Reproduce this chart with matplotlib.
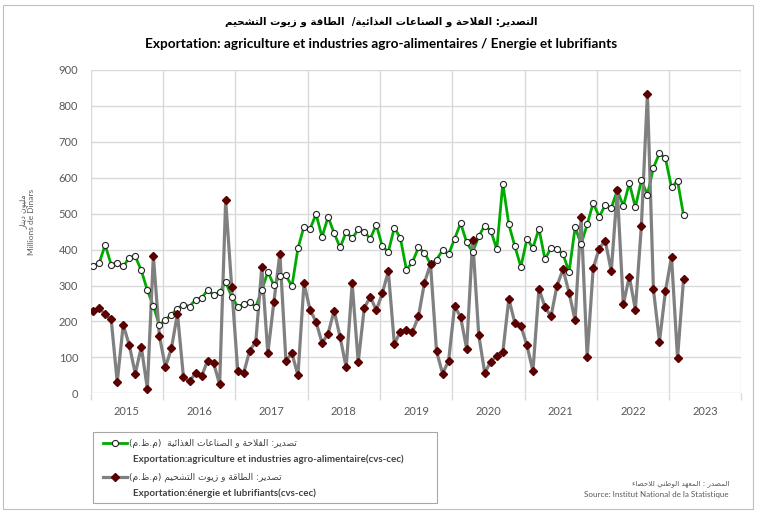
import numpy as np
import matplotlib
matplotlib.use('Agg')
import matplotlib.pyplot as plt
from matplotlib.lines import Line2D
from matplotlib.patches import Rectangle

# Données mensuelles, janvier 2015 -> mars 2023 (millions de dinars, cvs-cec)
years = [2015, 2016, 2017, 2018, 2019, 2020, 2021, 2022, 2023]
agri = [355, 362, 413, 358, 362, 353, 378, 381, 342, 287, 244, 189,
        205, 219, 236, 247, 241, 261, 265, 287, 274, 281, 310, 269,
        241, 248, 254, 241, 287, 338, 301, 327, 328, 298, 404, 464,
        457, 499, 435, 491, 446, 406, 449, 431, 456, 450, 430, 469,
        409, 394, 461, 432, 344, 365, 406, 391, 360, 372, 398, 387,
        430, 474, 420, 393, 437, 467, 453, 401, 584, 470, 409, 352,
        429, 405, 458, 373, 405, 401, 387, 338, 462, 415, 470, 530,
        491, 524, 516, 565, 521, 585, 518, 593, 553, 628, 668, 654,
        573, 592, 495]
energie = [229, 237, 220, 206, 31, 191, 134, 55, 129, 13, 383, 160,
           73, 125, 222, 44, 33, 56, 47, 91, 84, 25, 537, 296,
           63, 57, 119, 143, 352, 111, 254, 389, 91, 111, 50, 306,
           233, 199, 140, 166, 230, 156, 72, 306, 86, 237, 269, 231,
           278, 340, 137, 172, 177, 171, 214, 308, 360, 117, 55, 90,
           243, 212, 124, 428, 163, 57, 88, 105, 114, 263, 196, 188,
           134, 62, 291, 240, 214, 300, 345, 280, 203, 491, 100, 348,
           403, 425, 340, 565, 248, 325, 233, 466, 834, 289, 144, 285,
           380, 98, 319]

titre_ar = 'التصدير: الفلاحة و الصناعات الغذائية/  الطاقة و زيوت التشحيم'
titre_fr = 'Exportation: agriculture et industries agro-alimentaires / Energie et lubrifiants'
label_ar = 'مليون دينار'
label_fr = 'Millions de Dinars'
leg1_ar = 'تصدير: الفلاحة و الصناعات الغذائية  (م.ظ.م)'
leg1_fr = 'Exportation:agriculture et industries agro-alimentaire(cvs-cec)'
leg2_ar = 'تصدير: الطاقة و زيوت التشحيم (م.ظ.م)'
leg2_fr = 'Exportation:énergie et lubrifiants(cvs-cec)'
source_ar = 'المصدر : المعهد الوطني للاحصاء'
source_fr = 'Source: Institut National de la Statistique'

# Mise en forme de l'arabe (formes contextuelles + ordre visuel),
# matplotlib ne le fait pas tout seul
DUAL = {'ئ': 0xFE89, 'ب': 0xFE8F, 'ت': 0xFE95, 'ث': 0xFE99, 'ج': 0xFE9D,
        'ح': 0xFEA1, 'خ': 0xFEA5, 'س': 0xFEB1, 'ش': 0xFEB5, 'ص': 0xFEB9,
        'ض': 0xFEBD, 'ط': 0xFEC1, 'ظ': 0xFEC5, 'ع': 0xFEC9, 'غ': 0xFECD,
        'ف': 0xFED1, 'ق': 0xFED5, 'ك': 0xFED9, 'ل': 0xFEDD, 'م': 0xFEE1,
        'ن': 0xFEE5, 'ه': 0xFEE9, 'ي': 0xFEF1}
RIGHT = {'آ': 0xFE81, 'أ': 0xFE83, 'ؤ': 0xFE85, 'إ': 0xFE87, 'ا': 0xFE8D,
         'ة': 0xFE93, 'د': 0xFEA9, 'ذ': 0xFEAB, 'ر': 0xFEAD, 'ز': 0xFEAF,
         'و': 0xFEED, 'ى': 0xFEEF}
LAM_ALEF = {'ا': (0xFEFB, 0xFEFC), 'أ': (0xFEF7, 0xFEF8),
            'إ': (0xFEF9, 0xFEFA), 'آ': (0xFEF5, 0xFEF6)}


def arabe(text):
    out = []
    i = 0
    n = len(text)
    while i < n:
        c = text[i]
        prev = text[i - 1] if i > 0 else ''
        nxt = text[i + 1] if i + 1 < n else ''
        if c == 'ل' and nxt in LAM_ALEF:
            iso, fin = LAM_ALEF[nxt]
            out.append(chr(fin if prev in DUAL else iso))
            i += 2
            continue
        if c in DUAL:
            a = prev in DUAL
            z = nxt in DUAL or nxt in RIGHT
            code = DUAL[c] + (3 if a and z else 1 if a else 2 if z else 0)
        elif c in RIGHT:
            code = RIGHT[c] + (1 if prev in DUAL else 0)
        else:
            code = ord(c)
        out.append(chr(code))
        i += 1
    s = ''.join(reversed(out))
    return s.translate(str.maketrans('()', ')('))


plt.rcParams['font.family'] = ['Lato', 'DejaVu Sans']

W, H = 757, 512
fig = plt.figure(figsize=(W / 100, H / 100), dpi=100)


def fx(px):
    return px / W


def fy(py):
    return 1 - py / H


# cadre du graphique
fig.patches.append(Rectangle((fx(3), fy(509)), fx(750), 504 / H, transform=fig.transFigure,
                             fill=False, edgecolor='#bfbfbf', linewidth=0.8))

ax = fig.add_axes([fx(90.7), fy(393.3), fx(741.4 - 90.7), (393.3 - 70) / H])

x = np.arange(len(agri)) + 0.4
grid_col = '#d9d9d9'
vert = '#00aa00'
gris = '#808080'
bordeaux = '#5a0000'

ax.plot(x, agri, color=vert, linewidth=2.0, zorder=3)
ax.plot(x, energie, color=gris, linewidth=2.3, zorder=4)
ax.plot(x, agri, linestyle='none', marker='o', markersize=4.4, markerfacecolor='white',
        markeredgecolor='#262626', markeredgewidth=0.8, zorder=5)
ax.plot(x, energie, linestyle='none', marker='D', markersize=4.5, markerfacecolor=bordeaux,
        markeredgecolor=bordeaux, zorder=6)

ax.set_ylim(0, 900)
ax.set_yticks(range(0, 901, 100))
ax.set_xlim(0, 12 * len(years))
ax.set_xticks(np.arange(0, 12 * len(years) + 1, 12))
ax.set_xticklabels([])
ax.set_xticks(np.arange(6, 12 * len(years), 12), minor=True)
ax.set_xticklabels([str(y) for y in years], minor=True)
ax.grid(True, which='major', color=grid_col, linewidth=1.0)
ax.set_axisbelow(True)
for s in ax.spines.values():
    s.set_visible(False)
ax.tick_params(axis='y', length=0, pad=9, labelsize=8, labelcolor='#595959')
ax.tick_params(axis='x', which='major', length=5, color=grid_col, width=1.0)
ax.tick_params(axis='x', which='minor', length=0, pad=9, labelsize=8, labelcolor='#595959')

# titres
fig.text(0.503, fy(22), arabe(titre_ar), ha='center', va='center', fontsize=7.4,
         fontweight='bold', family='DejaVu Sans', color='#000000')
fig.text(0.503, fy(44), titre_fr, ha='center', va='center', fontsize=9.8,
         fontweight='bold', color='#000000')

# titre de l'axe y
fig.text(fx(23), fy(212), arabe(label_ar), rotation=90, ha='center', va='center',
         fontsize=5.5, family='DejaVu Sans', color='#595959')
fig.text(fx(32), fy(222), label_fr, rotation=90, ha='center', va='center',
         fontsize=6, color='#595959')

# légende (dessinée à la main)
fig.patches.append(Rectangle((fx(93), fy(503)), fx(437 - 93), 71 / H, transform=fig.transFigure,
                             fill=False, edgecolor='#a6a6a6', linewidth=0.8))
fig.lines.append(Line2D([fx(103), fx(127)], [fy(443), fy(443)], transform=fig.transFigure,
                        color=vert, linewidth=2.0))
fig.lines.append(Line2D([fx(115)], [fy(443)], transform=fig.transFigure, linestyle='none',
                        marker='o', markersize=4.4, markerfacecolor='white',
                        markeredgecolor='#262626', markeredgewidth=0.8))
fig.lines.append(Line2D([fx(103), fx(127)], [fy(477), fy(477)], transform=fig.transFigure,
                        color=gris, linewidth=2.3))
fig.lines.append(Line2D([fx(115)], [fy(477)], transform=fig.transFigure, linestyle='none',
                        marker='D', markersize=4.5, markerfacecolor=bordeaux,
                        markeredgecolor=bordeaux))
fig.text(fx(129), fy(443), arabe(leg1_ar), ha='left', va='center', fontsize=6.6,
         family='DejaVu Sans', color='#404040')
fig.text(fx(133), fy(459), leg1_fr, ha='left', va='center', fontsize=7.0,
         fontweight='bold', color='#404040')
fig.text(fx(129), fy(477), arabe(leg2_ar), ha='left', va='center', fontsize=6.6,
         family='DejaVu Sans', color='#404040')
fig.text(fx(133), fy(493), leg2_fr, ha='left', va='center', fontsize=7.0,
         fontweight='bold', color='#404040')

# source
fig.text(fx(729), fy(484), arabe(source_ar), ha='right', va='center', fontsize=5.2,
         family='DejaVu Sans', color='#595959')
fig.text(fx(729), fy(494), source_fr, ha='right', va='center', fontsize=5.8,
         color='#595959')

fig.savefig('out.png', dpi=100)
